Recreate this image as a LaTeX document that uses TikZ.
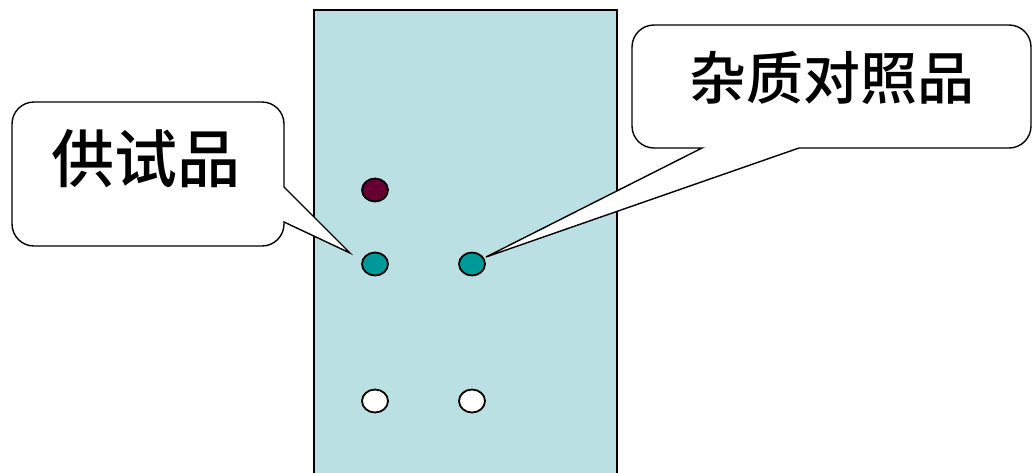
\documentclass[tikz,border=0pt]{standalone}
\usepackage{fontspec}
\newfontfamily\cjk{Noto Sans CJK SC}[BoldFont={Noto Sans CJK SC Medium}]
\usetikzlibrary{shapes.geometric}

\definecolor{platecol}{HTML}{BBE0E3}
\definecolor{spotred}{HTML}{660033}
\definecolor{spotteal}{HTML}{009999}

\begin{document}
\begin{tikzpicture}[x=1pt,y=-1pt,
spot/.style={ellipse,draw=black,line width=1.8pt,minimum width=26pt,minimum height=23pt,inner sep=0pt},
callout/.style={draw=black,fill=white,line width=1.4pt},
label/.style={font=\cjk\bfseries\fontsize{63}{63}\selectfont,inner sep=0pt} ]

\useasboundingbox (0,0) rectangle (1032,472);

% plate
\fill[platecol] (314,10) rectangle (617,480);
\draw[line width=1.6pt] (314,480) -- (314,10) -- (617,10) -- (617,480);

% spots
\node[spot,fill=spotred](s1) at (375,190) {};
\node[spot,fill=spotteal](s2) at (375,264) {};
\node[spot,fill=spotteal](r2) at (472,264) {};
\node[spot,fill=white](s3) at (375,401) {};
\node[spot,fill=white](r3) at (472,401) {};

\coordinate (tipA) at (350,253);
\coordinate (tipB) at (486,257);

% callouts
\draw[callout] (tipA) -- (284,222) [rounded corners=22pt] -- (284,246) -- (12,246) -- (12,102) -- (284,102) [sharp corners] -- (284,187) -- cycle;
\draw[callout] (tipB) -- (702,148) [rounded corners=22pt] -- (632,148) -- (632,25) -- (1031,25) -- (1031,148) [sharp corners] -- (799,148) -- cycle;

\node[label](sample) at (146,159) {供试品};
\node[label,font=\cjk\bfseries\fontsize{57}{57}\selectfont](impurity) at (832,78) {杂质对照品};
\end{tikzpicture}
\end{document}
